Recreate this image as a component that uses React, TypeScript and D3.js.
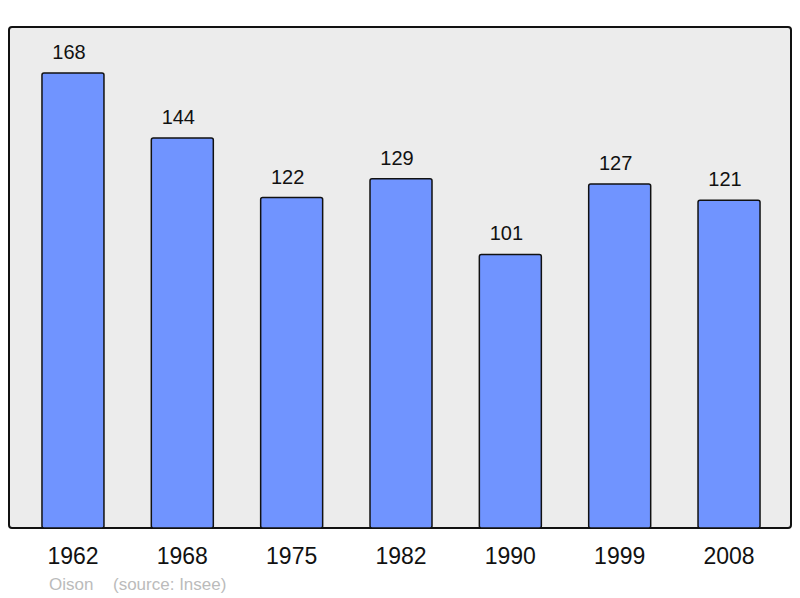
import React from 'react'
import * as d3 from 'd3'

const years = ['1962', '1968', '1975', '1982', '1990', '1999', '2008']
const population = [168, 144, 122, 129, 101, 127, 121]
const townName = 'Oison'
const sourceNote = '(source: Insee)'

const W = 800
const H = 598
const frame = { left: 9, top: 27, right: 791, bottom: 528 }

const App: React.FC = () => {
  const x = d3
    .scaleBand()
    .domain(years)
    .range([18.3, 783.7])
    .paddingInner(0.433)
    .paddingOuter(0.2165)

  // 168 sits at y=73, baseline at the frame bottom
  const y = d3
    .scaleLinear()
    .domain([0, 168])
    .range([frame.bottom, 73])

  const font = '"Liberation Sans", Arial, sans-serif'

  return (
    <svg
      width={W}
      height={H}
      style={{ position: 'absolute', left: 0, top: 0 }}
      fontFamily={font}
    >
      <rect x={0} y={0} width={W} height={H} fill="#ffffff" />
      <rect
        x={frame.left}
        y={frame.top}
        width={frame.right - frame.left}
        height={frame.bottom - frame.top}
        fill="#ececec"
        stroke="#111"
        strokeWidth={2}
        rx={3}
      />
      {years.map((yr, i) => {
        const bx = x(yr)!
        const v = population[i]
        return (
          <g key={yr}>
            <rect
              x={bx}
              y={y(v)}
              width={x.bandwidth()}
              height={frame.bottom - y(v)}
              fill="#7094ff"
              stroke="#111"
              strokeWidth={1.5}
              rx={2}
            />
            <text
              x={bx + x.bandwidth() / 2 - 4}
              y={y(v) - 14}
              textAnchor="middle"
              fontSize={20}
              fill="#111"
            >
              {v}
            </text>
            <text
              x={bx + x.bandwidth() / 2}
              y={564}
              textAnchor="middle"
              fontSize={23}
              fill="#111"
            >
              {yr}
            </text>
          </g>
        )
      })}
      <text x={49} y={590} fontSize={17} fill="#bbbbbb">
        {townName}
      </text>
      <text x={113} y={590} fontSize={17} fill="#bbbbbb">
        {sourceNote}
      </text>
    </svg>
  )
}

export default App
